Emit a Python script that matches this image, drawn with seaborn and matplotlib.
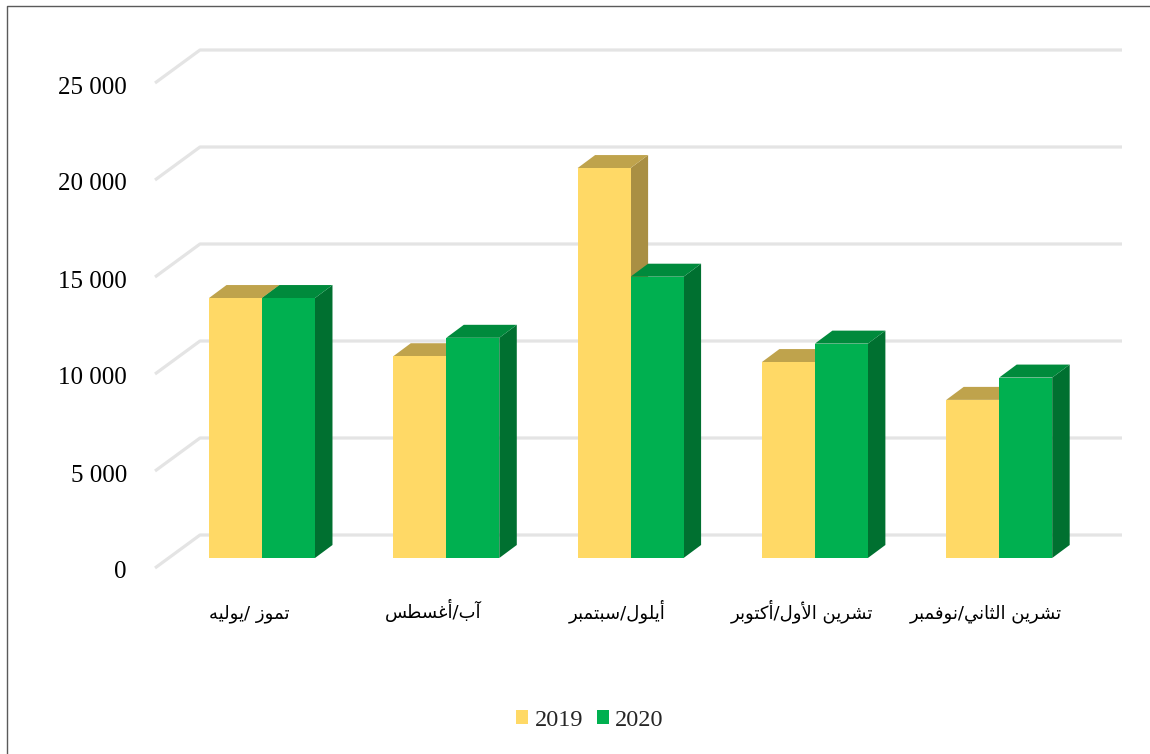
import pandas as pd
import matplotlib
matplotlib.use("Agg")
import matplotlib.pyplot as plt
import seaborn as sns
from matplotlib.lines import Line2D
from matplotlib.patches import Polygon
from matplotlib.transforms import ScaledTranslation

months = ["تموز /يوليه", "آب/أغسطس", "أيلول/سبتمبر", "تشرين الأول/أكتوبر", "تشرين الثاني/نوفمبر"]
values_2019 = [13400, 10400, 20100, 10100, 8150]
values_2020 = [13400, 11350, 14500, 11050, 9300]
y_ticks = [0, 5000, 10000, 15000, 20000, 25000]
y_labels = ["0", "5 000", "10 000", "15 000", "20 000", "25 000"]

colors = {"2019": "#FFD966", "2020": "#00B050"}
tops = {"2019": "#BFA34C", "2020": "#008A3C"}
sides = {"2019": "#A98F43", "2020": "#007030"}

# arabic letters -> presentation forms (isolated, final, initial, medial)
forms = {
    "ا": "\uFE8D\uFE8E", "آ": "\uFE81\uFE82", "أ": "\uFE83\uFE84",
    "ر": "\uFEAD\uFEAE", "ز": "\uFEAF\uFEB0", "و": "\uFEED\uFEEE",
    "ب": "\uFE8F\uFE90\uFE91\uFE92", "ت": "\uFE95\uFE96\uFE97\uFE98",
    "ث": "\uFE99\uFE9A\uFE9B\uFE9C", "س": "\uFEB1\uFEB2\uFEB3\uFEB4",
    "ش": "\uFEB5\uFEB6\uFEB7\uFEB8", "ط": "\uFEC1\uFEC2\uFEC3\uFEC4",
    "غ": "\uFECD\uFECE\uFECF\uFED0", "ف": "\uFED1\uFED2\uFED3\uFED4",
    "ك": "\uFED9\uFEDA\uFEDB\uFEDC", "ل": "\uFEDD\uFEDE\uFEDF\uFEE0",
    "م": "\uFEE1\uFEE2\uFEE3\uFEE4", "ن": "\uFEE5\uFEE6\uFEE7\uFEE8",
    "ه": "\uFEE9\uFEEA\uFEEB\uFEEC", "ي": "\uFEF1\uFEF2\uFEF3\uFEF4",
}
lam_alef = {"ا": "\uFEFB\uFEFC", "أ": "\uFEF7\uFEF8", "آ": "\uFEF5\uFEF6"}


def shape(text):
    # matplotlib has no arabic shaping, so join the letters and reverse by hand
    out = []
    i = 0
    prev_joins = False
    while i < len(text):
        c = text[i]
        if c not in forms:
            out.append(c)
            prev_joins = False
            i += 1
            continue
        if c == "ل" and i + 1 < len(text) and text[i + 1] in lam_alef:
            out.append(lam_alef[text[i + 1]][1 if prev_joins else 0])
            prev_joins = False
            i += 2
            continue
        f = forms[c]
        next_letter = i + 1 < len(text) and text[i + 1] in forms
        joins_next = len(f) == 4 and next_letter
        if prev_joins and joins_next:
            out.append(f[3])
        elif prev_joins:
            out.append(f[1])
        elif joins_next:
            out.append(f[2])
        else:
            out.append(f[0])
        prev_joins = joins_next
        i += 1
    return "".join(reversed(out))


df = pd.DataFrame({
    "month": months * 2,
    "year": ["2019"] * 5 + ["2020"] * 5,
    "value": values_2019 + values_2020,
})

sns.set_style("white")
plt.rcParams["font.family"] = ["Liberation Serif", "DejaVu Sans"]

fig = plt.figure(figsize=(11.5, 7.54), dpi=100)
ax = fig.add_axes([140 / 1150, 1 - 575 / 754, 990 / 1150, 535 / 754])

sns.barplot(data=df, x="month", y="value", hue="year", palette=colors, saturation=1,
            width=0.575, gap=0, linewidth=0, zorder=3, ax=ax)

# pixels -> data: 184.3 px per category, 97 px per 5000
px_x = 1 / 184.3
px_y = 5000 / 97
ax.set_xlim((140 - 262) * px_x, (1130 - 262) * px_x)
ax.set_ylim((558 - 575) * px_y, (558 - 40) * px_y)

# back wall grid with the slanted floor part
for v in y_ticks:
    ax.plot([(155 - 262) * px_x, (200 - 262) * px_x, (1122 - 262) * px_x],
            [v - 10 * px_y, v + 23 * px_y, v + 23 * px_y],
            color="#E4E4E4", lw=2.3, zorder=1, solid_capstyle="butt", clip_on=False)

# fake 3d: top and side of each bar
dx = 17.5 * px_x
dy = 13 * px_y
for container, year in zip(ax.containers, ["2019", "2020"]):
    z = 2 if year == "2019" else 2.5
    for bar in container:
        x0 = bar.get_x()
        x1 = x0 + bar.get_width()
        h = bar.get_height()
        ax.add_patch(Polygon([(x1, 0), (x1 + dx, dy), (x1 + dx, h + dy), (x1, h)],
                             facecolor=sides[year], edgecolor="none", zorder=z))
        ax.add_patch(Polygon([(x0, h), (x0 + dx, h + dy), (x1 + dx, h + dy), (x1, h)],
                             facecolor=tops[year], edgecolor="none", zorder=z))

ax.set_xlabel("")
ax.set_ylabel("")
ax.set_yticks(y_ticks, y_labels)
ax.set_xticks(range(len(months)), [shape(m) for m in months])
ax.tick_params(axis="y", length=0, pad=9.4, labelsize=18, labelcolor="black")
ax.tick_params(axis="x", length=0, pad=31, labelsize=13, labelcolor="black")
for lab in ax.get_yticklabels():
    lab.set_transform(lab.get_transform() + ScaledTranslation(0, -12 / 100, fig.dpi_scale_trans))
for lab in ax.get_xticklabels():
    lab.set_family(["DejaVu Sans"])
    lab.set_verticalalignment("baseline")
    lab.set_transform(lab.get_transform() + ScaledTranslation(-13 / 100, 0, fig.dpi_scale_trans))
sns.despine(ax=ax, left=True, bottom=True)

sns.move_legend(ax, "center", bbox_to_anchor=(590 / 1150, 1 - 720 / 754),
                bbox_transform=fig.transFigure, ncols=2, title=None, frameon=False,
                fontsize=17.5, handlelength=0.5, handleheight=0.5, handletextpad=0.25,
                columnspacing=0.58, borderpad=0)

# outer chart frame, only top and left are in the picture
fig.add_artist(Line2D([7 / 1150, 7 / 1150, 1], [0, 1 - 6 / 754, 1 - 6 / 754],
                      color="#5A5A5A", lw=1))

fig.savefig("out.png", dpi=100)
